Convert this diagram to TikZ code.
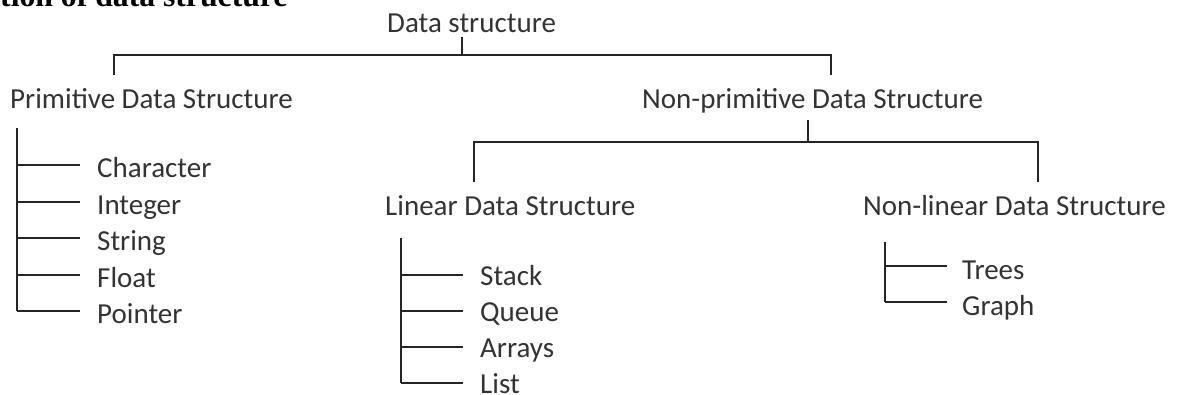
\documentclass[tikz,border=0pt]{standalone}
\usepackage{fontspec}
\setmainfont{Carlito}
\newfontfamily\titlefont{Liberation Serif}
\begin{document}
\begin{tikzpicture}[x=1pt,y=-1pt,
  lbl/.style={anchor=base west, inner sep=0pt, font=\fontsize{29}{33}\selectfont, text=black!80},
  ttl/.style={anchor=base west, inner sep=0pt, font=\titlefont\bfseries\fontsize{31.7}{34}\selectfont, text=black},
  ln/.style={line width=2pt, black!85}]
\clip (0,0) rectangle (1180,394);
\fill[white] (0,0) rectangle (1180,394);
% cut-off heading
\node[ttl] (title) at (0,6) {tion of data structure};
% level 0
\node[lbl] (ds) at (387,32) {Data structure};
\coordinate (t0) at (462,37);
\coordinate (h0) at (462,55);
\coordinate (h0l) at (114,55);
\coordinate (h0r) at (831,55);
\coordinate (p0) at (114,75);
\coordinate (q0) at (831,75);
\draw[ln] (t0) -- (h0);
\draw[ln] (p0) -- (h0l) -- (h0r) -- (q0);
% level 1
\node[lbl] (pds) at (10,108) {Primitive Data Structure};
\node[lbl] (npds) at (642,108) {Non-primitive Data Structure};
\coordinate (t1) at (808,120);
\coordinate (h1) at (808,142);
\coordinate (h1l) at (474,142);
\coordinate (h1r) at (1038,142);
\coordinate (p1) at (474,182);
\coordinate (q1) at (1038,182);
\draw[ln] (t1) -- (h1);
\draw[ln] (p1) -- (h1l) -- (h1r) -- (q1);
% level 2
\node[lbl] (lds) at (385,215) {Linear Data Structure};
\node[lbl] (nlds) at (863,215) {Non-linear Data Structure};
% primitive leaves
\coordinate (va) at (17,128);
\foreach \name/\txt [count=\i from 0] in {ch/Character,in/Integer,st/String,fl/Float,po/Pointer}{
  \coordinate (a\i) at (17,165+36.5*\i);
  \coordinate (b\i) at (80,165+36.5*\i);
  \node[lbl] (\name) at (97,177.5+36.5*\i) {\txt};
  \draw[ln] (a\i) -- (b\i);
}
\draw[ln] (va) -- (a4);
% linear leaves
\coordinate (vb) at (401,238);
\foreach \name/\txt [count=\i from 0] in {sk/Stack,qu/Queue,ar/Arrays,li/List}{
  \coordinate (c\i) at (401,274.5+36*\i);
  \coordinate (d\i) at (463,274.5+36*\i);
  \node[lbl] (\name) at (480,285.5+36*\i) {\txt};
  \draw[ln] (c\i) -- (d\i);
}
\draw[ln] (vb) -- (c3);
% non-linear leaves
\coordinate (vc) at (885,242);
\foreach \name/\txt [count=\i from 0] in {tr/Trees,gr/Graph}{
  \coordinate (e\i) at (885,266+36*\i);
  \coordinate (f\i) at (947,266+36*\i);
  \node[lbl] (\name) at (962,279+36*\i) {\txt};
  \draw[ln] (e\i) -- (f\i);
}
\draw[ln] (vc) -- (e1);
\end{tikzpicture}
\end{document}
